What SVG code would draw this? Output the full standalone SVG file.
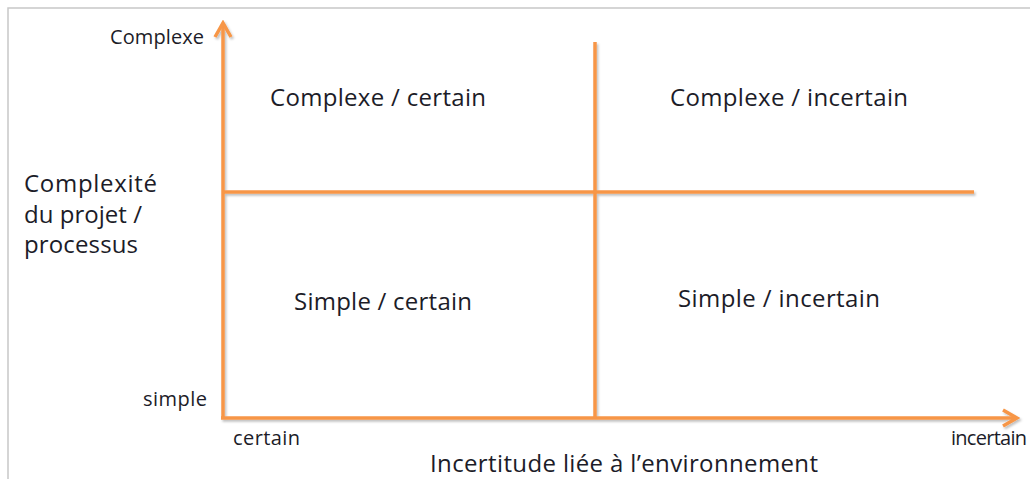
<svg xmlns="http://www.w3.org/2000/svg" width="1030" height="479" viewBox="0 0 1030 479">
<style>
text{font-family:"Open Sans","Liberation Sans",sans-serif;fill:#1c1c28}
.big{font-size:24px}
.sm{font-size:20px}
.ax{stroke:#f79646;stroke-width:3.5;fill:none;stroke-linecap:butt}
</style>
<defs>
<filter id="sh" x="-5%" y="-5%" width="110%" height="110%">
<feDropShadow dx="1.5" dy="2" stdDeviation="1.2" flood-color="#000" flood-opacity="0.25"/>
</filter>
<marker id="ah" viewBox="0 0 20 20" refX="17" refY="10" markerWidth="20" markerHeight="20" markerUnits="userSpaceOnUse" orient="auto">
<path d="M3,2 L17,10 L3,18" fill="none" stroke="#f79646" stroke-width="3.5" stroke-linejoin="miter"/>
</marker>
</defs>
<rect width="1030" height="479" fill="#fff"/>
<path d="M8,479 V8 H1030" fill="none" stroke="#c8c8c8" stroke-width="1.5"/>
<g id="connectors" filter="url(#sh)">
<line class="ax" x1="223" y1="419" x2="223" y2="23" marker-end="url(#ah)"/>
<line class="ax" x1="221" y1="418" x2="1017" y2="418" marker-end="url(#ah)"/>
<line class="ax" x1="595" y1="42" x2="595" y2="418"/>
<line class="ax" x1="223" y1="192" x2="974" y2="192"/>
</g>
<g id="q-complexe-certain"><text class="big" x="270" y="106" textLength="216">Complexe / certain</text></g>
<g id="q-complexe-incertain"><text class="big" x="670" y="106" textLength="238">Complexe / incertain</text></g>
<g id="q-simple-certain"><text class="big" x="294" y="310" textLength="178">Simple / certain</text></g>
<g id="q-simple-incertain"><text class="big" x="678" y="307" textLength="202">Simple / incertain</text></g>
<g id="y-axis-label">
<text class="big" x="24" y="192" textLength="133">Complexité</text>
<text class="big" x="24" y="223" textLength="118">du projet /</text>
<text class="big" x="24" y="253" textLength="114">processus</text>
</g>
<g id="y-top"><text class="sm" x="110" y="44" textLength="94">Complexe</text></g>
<g id="y-bottom"><text class="sm" x="143" y="406" textLength="64">simple</text></g>
<g id="x-left"><text class="sm" x="233" y="445" textLength="67">certain</text></g>
<g id="x-right"><text class="sm" x="951" y="445" textLength="76">incertain</text></g>
<g id="x-axis-label"><text class="big" x="430" y="472" textLength="388">Incertitude liée à l’environnement</text></g>
</svg>
